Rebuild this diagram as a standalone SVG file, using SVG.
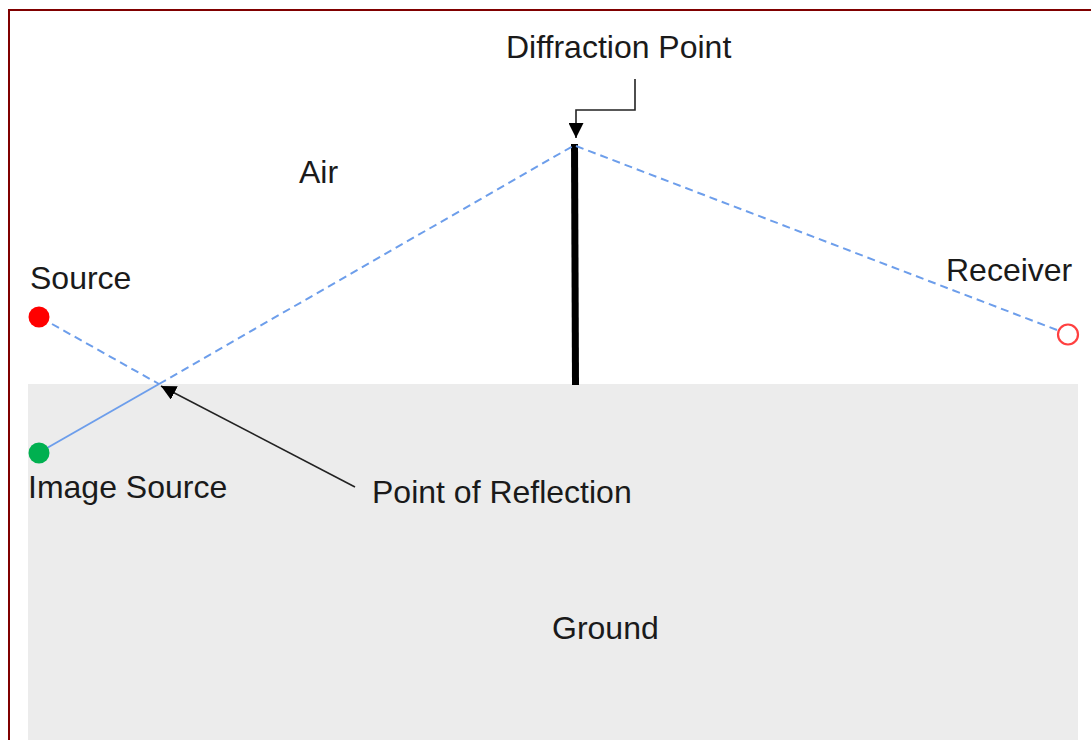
<svg xmlns="http://www.w3.org/2000/svg" width="1091" height="740" viewBox="0 0 1091 740">
<defs>
<style>
text{font-family:"Liberation Sans",Arial,sans-serif;font-size:32px;fill:#1a1a1a}
.ray{stroke:#6d9eeb;stroke-width:2;fill:none}
.dash{stroke-dasharray:8 5}
.ptr{stroke:#222;stroke-width:1.6;fill:none}
</style>
<marker id="ah" viewBox="0 0 10 10" refX="10" refY="5" markerWidth="15" markerHeight="15" markerUnits="userSpaceOnUse" orient="auto">
<path d="M0,0 L10,5 L0,10 Z" fill="#000"/>
</marker>
</defs>
<rect x="0" y="0" width="1091" height="740" fill="#fff"/>
<path d="M9,745 V10 H1095" fill="none" stroke="#800000" stroke-width="2"/>
<g id="ground">
<rect x="28" y="384" width="1050" height="360" fill="#ececec"/>
<text x="552" y="639">Ground</text>
</g>
<g id="air"><text x="299" y="183">Air</text></g>
<g id="wall"><line x1="574.5" y1="144" x2="575.5" y2="385" stroke="#000" stroke-width="7"/></g>
<g id="connectors">
<line class="ray dash" x1="52" y1="324" x2="159" y2="384"/>
<line class="ray dash" x1="159" y1="384" x2="573" y2="146"/>
<line class="ray dash" x1="576" y1="146" x2="1057" y2="330"/>
<line class="ray" x1="47" y1="448" x2="159" y2="384"/>
<path class="ptr" d="M635,79 V110 H576 V138" marker-end="url(#ah)"/>
<line class="ptr" x1="355" y1="487" x2="161" y2="386" marker-end="url(#ah)"/>
</g>
<g id="source">
<circle cx="39" cy="317" r="10.5" fill="#ff0000"/>
<text x="30" y="289">Source</text>
</g>
<g id="image-source">
<circle cx="39" cy="453" r="10.5" fill="#00b050"/>
<text x="28" y="498">Image Source</text>
</g>
<g id="receiver">
<circle cx="1068" cy="334.5" r="10" fill="#fff" stroke="#ff4040" stroke-width="2.2"/>
<text x="946" y="281">Receiver</text>
</g>
<g id="diffraction-point"><text x="506" y="58">Diffraction Point</text></g>
<g id="point-of-reflection"><text x="372" y="503">Point of Reflection</text></g>
</svg>
